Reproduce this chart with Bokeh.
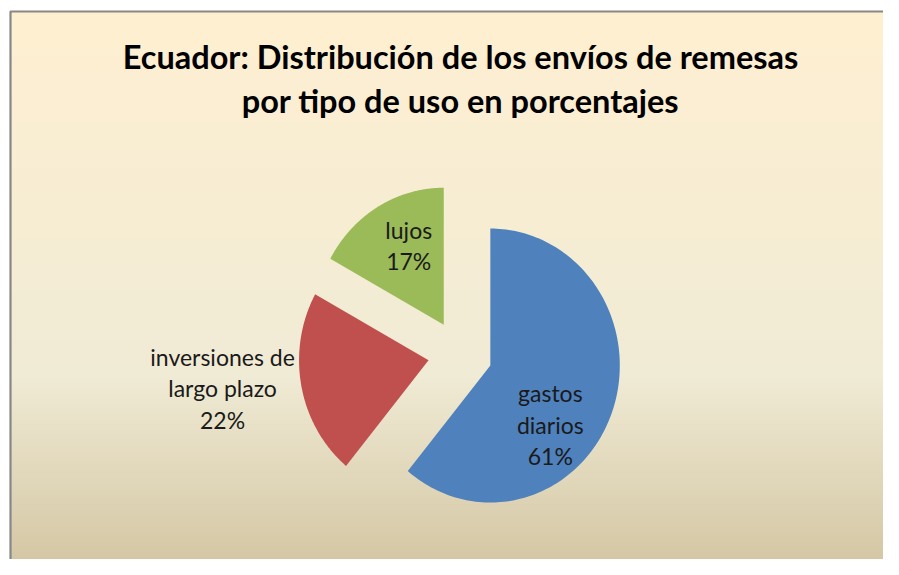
import numpy as np
from bokeh.plotting import figure
from bokeh.models import Range1d, ColumnDataSource
from bokeh.core.properties import value
from bokeh.embed import file_html
from bokeh.resources import INLINE

# ---- data ----
categories = ["gastos diarios", "inversiones de largo plazo", "lujos"]
label_names = ["gastos\ndiarios", "inversiones de\nlargo plazo", "lujos"]
values = [61, 22, 17]
colors = ["#4F81BD", "#C0504D", "#9BBB59"]
title_lines = ["Ecuador: Distribución de los envíos de remesas",
               "por tipo de uso en porcentajes"]

# ---- layout (pixels; y measured from the top via sy) ----
W, H = 883, 559          # fits 899x575 window with 8px margins
def sy(y):  # y from top -> data y
    return H - y

cx, cy = 459.6, sy(353.5)  # pie centre
R = 137                    # vertical radius
K = 0.945                  # horizontal squeeze of the original picture
EXPL = 34                  # explosion distance
# label offset from each slice vertex in pixels: (dx right, dy down)
label_off = [(60, 59), (-206, 28), (-35, -79)]

p = figure(width=W, height=H, output_backend="svg", toolbar_location=None,
           x_range=Range1d(0, W), y_range=Range1d(0, H),
           min_border=0, outline_line_color=None)
p.axis.visible = False
p.grid.visible = False
p.background_fill_color = "white"
p.border_fill_color = "white"

# background gradient (Parchment)
top_y, bot_y = 11, 580
n = 600
ts = np.linspace(0, 1, n)  # 0 top -> 1 bottom
stops = [(0.0, (0xFF, 0xEF, 0xD1)), (0.64, (0xF0, 0xEB, 0xD5)), (1.0, (0xD1, 0xC3, 0x9F))]
sp = [s[0] for s in stops]
rgb = np.stack([np.interp(ts, sp, [s[1][k] for s in stops]) for k in range(3)], axis=1)
rgb = rgb[::-1]  # row 0 is bottom
img = np.empty((n, 2), dtype=np.uint32)
view = img.view(dtype=np.uint8).reshape((n, 2, 4))
for c in range(2):
    view[:, c, 0] = rgb[:, 0].round().astype(np.uint8)
    view[:, c, 1] = rgb[:, 1].round().astype(np.uint8)
    view[:, c, 2] = rgb[:, 2].round().astype(np.uint8)
    view[:, c, 3] = 255
p.image_rgba(image=[img], x=10, y=sy(bot_y), dw=W - 10, dh=bot_y - top_y)

# frame border: left and top edges
p.line(x=[10, 10, W], y=[0, sy(11), sy(11)], line_color="#878787", line_width=2.2)

# ---- pie (exploded, slightly squeezed horizontally) ----
total = float(sum(values))
cum = np.concatenate([[0], np.cumsum(values)])
start = np.pi / 2 - 2 * np.pi * cum[:-1] / total
end = np.pi / 2 - 2 * np.pi * cum[1:] / total
mid = (start + end) / 2
vx = cx + K * EXPL * np.cos(mid)
vy = cy + EXPL * np.sin(mid)

xs, ys = [], []
for i in range(len(values)):
    th = np.linspace(start[i], end[i], 160)
    xs.append(np.concatenate([[vx[i]], vx[i] + K * R * np.cos(th)]).tolist())
    ys.append(np.concatenate([[vy[i]], vy[i] + R * np.sin(th)]).tolist())

src = ColumnDataSource(dict(xs=xs, ys=ys, color=colors, name=categories))
p.patches(xs="xs", ys="ys", fill_color="color", line_color=None, source=src)

# labels
lx = [vx[i] + dx for i, (dx, dy) in enumerate(label_off)]
ly = [vy[i] - dy for i, (dx, dy) in enumerate(label_off)]
texts = [f"{nm}\n{round(100 * v / total)}%" for nm, v in zip(label_names, values)]
p.text(x=lx, y=ly, text=texts, text_align="center", text_baseline="middle",
       text_font=value("Lato"), text_font_size="23px", text_line_height=1.12,
       text_color="#1a1a1a")

# title
p.text(x=[460], y=[sy(78)], text=["\n".join(title_lines)],
       text_align="center", text_baseline="middle",
       text_font=value("Lato"), text_font_style="bold", text_font_size="32.5px",
       text_line_height=1.14, text_color="#000000")

open("out.html", "w").write(file_html(p, INLINE))
